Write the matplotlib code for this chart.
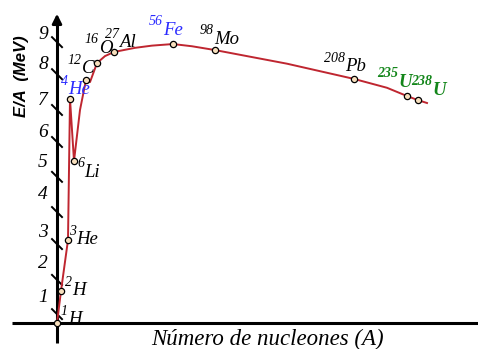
import matplotlib
matplotlib.use('Agg')
import matplotlib.pyplot as plt

# nuclides: schematic position along A axis, binding energy per nucleon (MeV)
mass_num = ['1', '2', '3', '4', '6', '12', '16', '27', '56', '98', '208', '235', '238']
element = ['H', 'H', 'He', 'He', 'Li', 'C', 'O', 'Al', 'Fe', 'Mo', 'Pb', 'U', 'U']
pos_a = [0, 4, 11, 13, 17, 29, 40, 57, 116, 158, 297, 350, 361]
e_per_a = [0.0, 1.01, 2.62, 7.07, 5.11, 7.67, 8.20, 8.55, 8.80, 8.61, 7.70, 7.16, 7.03]

# curve drawn through the points
curve_x = [0, 4, 11, 13, 17, 23, 29, 33, 40, 48, 57, 78, 95, 116, 135, 158, 230, 297, 330, 350, 361, 370]
curve_y = [0.0, 1.01, 2.62, 7.07, 5.11, 6.72, 7.67, 7.60, 8.20, 8.42, 8.55, 8.68, 8.75, 8.80, 8.73, 8.61, 8.18, 7.70, 7.42, 7.16, 7.03, 6.94]

# y-axis: tick labels and the slash marks
ytick_labels = ['1', '2', '3', '4', '5', '6', '7', '8', '9']
ytick_label_pos = [0.82, 1.89, 2.87, 4.04, 5.05, 6.02, 7.03, 8.15, 9.09]
slash_pos = [0.28, 1.36, 2.49, 3.50, 4.61, 5.71, 6.72, 7.85, 8.86]

blue, green = '#2b2bff', '#13861a'
label_color = ['k', 'k', 'k', blue, 'k', 'k', 'k', 'k', blue, 'k', 'k', green, green]
# offset (pixels) of the superscript's top-left corner from the marker
label_off = [(4, 18), (4, 15), (1, 15), (-9, 24), (3, 4), (-18, 26), (-12, 30), (-9, 24),
             (-24, 29), (-15, 26), (-30, 27), (-30, 29), (-7, 25)]

px_per_mev = 31.7
W, H = 478, 349
x0, y0 = 57, 323  # origin in pixels

fig = plt.figure(figsize=(W / 100, H / 100), dpi=100)
ax = fig.add_axes([0, 0, 1, 1])
ax.set_xlim(-x0, W - x0)
ax.set_ylim(-(H - y0) / px_per_mev, y0 / px_per_mev)
ax.axis('off')

# axes lines
ax.plot([-45, W - x0], [0, 0], color='k', lw=2.2, solid_capstyle='butt')
ax.plot([0, 0], [-(343 - y0) / px_per_mev, 9.6], color='k', lw=2.2, solid_capstyle='butt')
ax.annotate('', xy=(0, (y0 - 11) / px_per_mev), xytext=(0, 9.3),
            arrowprops=dict(arrowstyle='-|>', color='k', lw=2, mutation_scale=14))

# slashes on the y axis
dy = 5 / px_per_mev
for s in slash_pos:
    ax.plot([-5, 5], [s + dy, s - dy], color='k', lw=1.4)

for lab, p in zip(ytick_labels, ytick_label_pos):
    ax.text(-14, p, lab, ha='center', va='center', fontsize=14,
            family='Liberation Serif', style='italic')

# curve and markers
ax.plot(curve_x, curve_y, color='#bf2630', lw=1.4, zorder=3)
ax.plot(pos_a, e_per_a, 'o', ms=4.5, mfc='#f7dfbd', mec='k', mew=0.9, zorder=4)

for i in range(len(mass_num)):
    w = 'bold' if element[i] == 'U' else 'normal'
    sup = ax.annotate(mass_num[i], (pos_a[i], e_per_a[i]), xytext=label_off[i],
                      textcoords='offset pixels', ha='left', va='top', fontsize=10,
                      family='Liberation Serif', style='italic', weight=w, color=label_color[i])
    ax.annotate(element[i], xy=(1, 0), xycoords=sup, xytext=(0, -2),
                textcoords='offset pixels', ha='left', va='center', fontsize=13.5,
                family='Liberation Serif', style='italic', weight=w, color=label_color[i])

ax.text(267 - x0, -(339 - y0) / px_per_mev, 'Número de nucleones (A)', ha='center', va='center',
        fontsize=16.5, family='Liberation Serif', style='italic')
ax.text(22 - x0, (y0 - 76) / px_per_mev, 'E/A  (MeV)', ha='center', va='center', rotation=90,
        fontsize=12, family='Liberation Sans', weight='bold', style='italic')

fig.savefig('out.png', dpi=100)
